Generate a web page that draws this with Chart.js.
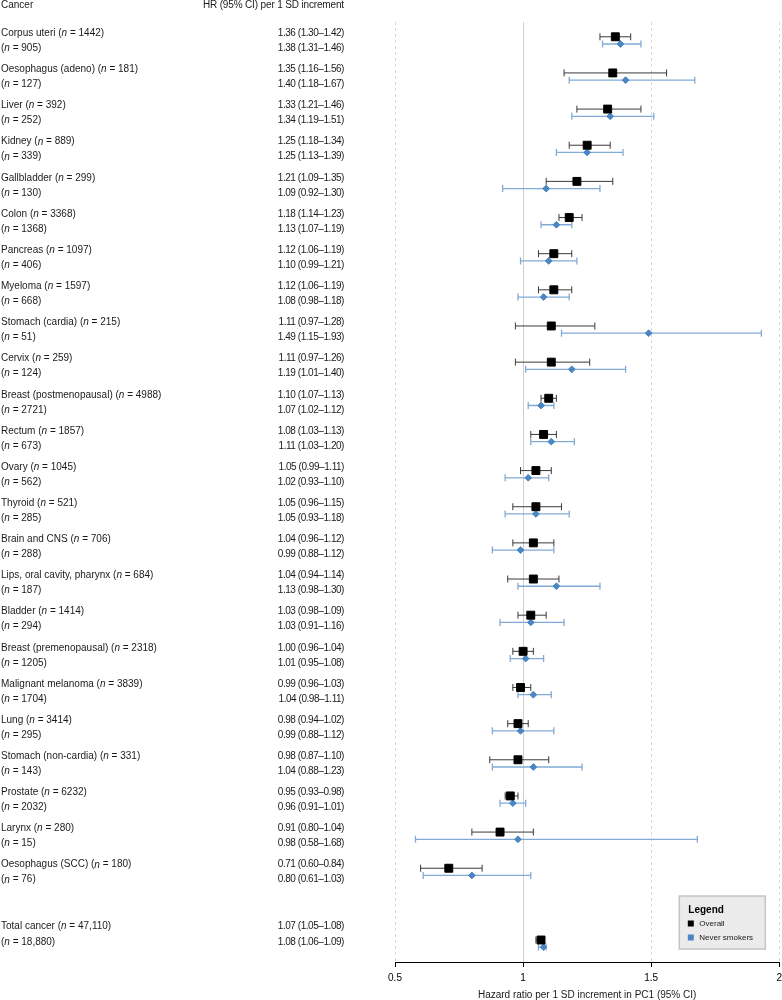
<!DOCTYPE html>
<html>
<head>
<meta charset="utf-8">
<script src="https://cdn.jsdelivr.net/npm/chart.js@4.4.1/dist/chart.umd.min.js"></script>
<style>
  html, body { margin: 0; padding: 0; background: #fff; }
  #wrap { width: 782px; height: 1000px; position: relative; }
</style>
</head>
<body>
<div id="wrap"><canvas id="forest"></canvas></div>
<script>
//---values---
const cancers = ['Corpus uteri', 'Oesophagus (adeno)', 'Liver', 'Kidney', 'Gallbladder', 'Colon', 'Pancreas',
  'Myeloma', 'Stomach (cardia)', 'Cervix', 'Breast (postmenopausal)', 'Rectum', 'Ovary', 'Thyroid',
  'Brain and CNS', 'Lips, oral cavity, pharynx', 'Bladder', 'Breast (premenopausal)', 'Malignant melanoma',
  'Lung', 'Stomach (non-cardia)', 'Prostate', 'Larynx', 'Oesophagus (SCC)', 'Total cancer'];
const nOverall = ['1442', '181', '392', '889', '299', '3368', '1097', '1597', '215', '259', '4988', '1857', '1045',
  '521', '706', '684', '1414', '2318', '3839', '3414', '331', '6232', '280', '180', '47,110'];
const nNever = ['905', '127', '252', '339', '130', '1368', '406', '668', '51', '124', '2721', '673', '562',
  '285', '288', '187', '294', '1205', '1704', '295', '143', '2032', '15', '76', '18,880'];

const hrOverall = [1.36, 1.35, 1.33, 1.25, 1.21, 1.18, 1.12, 1.12, 1.11, 1.11, 1.10, 1.08, 1.05, 1.05, 1.04, 1.04, 1.03, 1.00, 0.99, 0.98, 0.98, 0.95, 0.91, 0.71, 1.07];
const loOverall = [1.30, 1.16, 1.21, 1.18, 1.09, 1.14, 1.06, 1.06, 0.97, 0.97, 1.07, 1.03, 0.99, 0.96, 0.96, 0.94, 0.98, 0.96, 0.96, 0.94, 0.87, 0.93, 0.80, 0.60, 1.05];
const hiOverall = [1.42, 1.56, 1.46, 1.34, 1.35, 1.23, 1.19, 1.19, 1.28, 1.26, 1.13, 1.13, 1.11, 1.15, 1.12, 1.14, 1.09, 1.04, 1.03, 1.02, 1.10, 0.98, 1.04, 0.84, 1.08];

const hrNever = [1.38, 1.40, 1.34, 1.25, 1.09, 1.13, 1.10, 1.08, 1.49, 1.19, 1.07, 1.11, 1.02, 1.05, 0.99, 1.13, 1.03, 1.01, 1.04, 0.99, 1.04, 0.96, 0.98, 0.80, 1.08];
const loNever = [1.31, 1.18, 1.19, 1.13, 0.92, 1.07, 0.99, 0.98, 1.15, 1.01, 1.02, 1.03, 0.93, 0.93, 0.88, 0.98, 0.91, 0.95, 0.98, 0.88, 0.88, 0.91, 0.58, 0.61, 1.06];
const hiNever = [1.46, 1.67, 1.51, 1.39, 1.30, 1.19, 1.21, 1.18, 1.93, 1.40, 1.12, 1.20, 1.10, 1.18, 1.12, 1.30, 1.16, 1.08, 1.11, 1.12, 1.23, 1.01, 1.68, 1.03, 1.09];

const seriesNames = ['Overall', 'Never smokers'];
const xTicks = [0.5, 1, 1.5, 2];
const refLine = 1;
const colHeaders = ['Cancer', 'HR (95% CI) per 1 SD increment'];
const xTitle = 'Hazard ratio per 1 SD increment in PC1 (95% CI)';
const legendTitle = 'Legend';

//---look---
const FAMILY = '"Liberation Sans", Arial, Helvetica, sans-serif';
const FONT = '10px ' + FAMILY;
const TEXT = '#1a1a1a';
const BLACK = '#000000';
const BAR_BLACK = '#3a3a3a';
const BLUE = '#4a86c2';
const BAR_BLUE = '#82aad6';

// vertical slot of each row (one unit per cancer, the total sits further down)
function rowY(i, part) {
  if (i === cancers.length - 1) {
    return {text1: 24.487, text2: 24.93, mark1: 24.875, mark2: 25.069}[part];
  }
  return i + {text1: -0.2075, text2: 0.2075, mark1: -0.111, mark2: 0.0885}[part];
}

function pointsOf(hr, which) {
  return hr.map((v, i) => ({x: v, y: rowY(i, which)}));
}
function whiskersOf(lo, hi, which) {
  const out = [];
  for (let i = 0; i < lo.length; i++) {
    const y = rowY(i, which);
    out.push({x: lo[i], y: y}, {x: hi[i], y: y}, {x: null, y: null});
  }
  return out;
}

function hrText(h, l, u) {
  return h.toFixed(2) + ' (' + l.toFixed(2) + '\u2013' + u.toFixed(2) + ')';
}

// writes "prefix(n = count)" with an italic n
function drawLabel(ctx, x, y, prefix, count) {
  ctx.font = FONT;
  ctx.fillText(prefix, x, y);
  x += ctx.measureText(prefix).width;
  ctx.font = 'italic ' + FONT;
  ctx.fillText('n', x, y);
  x += ctx.measureText('n').width;
  ctx.font = FONT;
  ctx.fillText(' = ' + count + ')', x, y);
}

//-------------------Plugins-------------------
const refLinePlugin = {
  id: 'refLine',
  beforeDatasetsDraw(chart) {
    const {ctx, chartArea, scales} = chart;
    const x = Math.round(scales.x.getPixelForValue(refLine)) + 0.5;
    ctx.save();
    ctx.strokeStyle = '#cfcfcf';
    ctx.lineWidth = 1;
    ctx.beginPath();
    ctx.moveTo(x, chartArea.top);
    ctx.lineTo(x, chartArea.bottom);
    ctx.stroke();
    ctx.restore();
  }
};

const tablePlugin = {
  id: 'table',
  afterDraw(chart) {
    const {ctx, scales} = chart;
    const y = scales.y;
    const leftX = 1, hrRight = 344;
    ctx.save();
    ctx.fillStyle = TEXT;
    ctx.textBaseline = 'middle';
    ctx.font = FONT;
    ctx.textAlign = 'left';
    ctx.fillText(colHeaders[0], leftX, 5);
    ctx.textAlign = 'right';
    ctx.letterSpacing = '-0.15px';
    ctx.fillText(colHeaders[1], hrRight, 5);

    for (let i = 0; i < cancers.length; i++) {
      const y1 = y.getPixelForValue(rowY(i, 'text1'));
      const y2 = y.getPixelForValue(rowY(i, 'text2'));
      ctx.letterSpacing = '0px';
      ctx.textAlign = 'left';
      drawLabel(ctx, leftX, y1, cancers[i] + ' (', nOverall[i]);
      drawLabel(ctx, leftX, y2, '(', nNever[i]);
      ctx.textAlign = 'right';
      ctx.font = FONT;
      ctx.letterSpacing = '-0.45px';
      ctx.fillText(hrText(hrOverall[i], loOverall[i], hiOverall[i]), hrRight, y1);
      ctx.fillText(hrText(hrNever[i], loNever[i], hiNever[i]), hrRight, y2);
    }
    ctx.restore();
  }
};

const legendBoxPlugin = {
  id: 'legendBox',
  afterDraw(chart) {
    const {ctx, chartArea} = chart;
    const w = 86, h = 53;
    const x0 = chartArea.right - 14 - w;
    const y0 = chartArea.bottom - 13 - h;
    ctx.save();
    ctx.fillStyle = '#ebebeb';
    ctx.strokeStyle = '#c4c4c4';
    ctx.lineWidth = 1.5;
    ctx.fillRect(x0, y0, w, h);
    ctx.strokeRect(x0, y0, w, h);
    ctx.textBaseline = 'middle';
    ctx.textAlign = 'left';
    ctx.fillStyle = BLACK;
    ctx.font = 'bold 10px ' + FAMILY;
    ctx.fillText(legendTitle, x0 + 9, y0 + 14);
    const colors = [BLACK, BLUE];
    ctx.font = '8px ' + FAMILY;
    seriesNames.forEach((name, k) => {
      const yy = y0 + 27.5 + k * 14;
      ctx.fillStyle = colors[k];
      ctx.fillRect(x0 + 8.5, yy - 3, 6, 6);
      ctx.fillStyle = TEXT;
      ctx.fillText(name, x0 + 20, yy);
    });
    ctx.restore();
  }
};

//-------------------Chart-------------------
Chart.defaults.font.family = FAMILY;
Chart.defaults.font.size = 10;
Chart.defaults.color = TEXT;

new Chart(document.getElementById('forest'), {
  type: 'scatter',
  data: {
    datasets: [
      {
        label: seriesNames[0],
        data: pointsOf(hrOverall, 'mark1'),
        pointStyle: 'rect',
        pointRadius: 5.6,
        backgroundColor: BLACK,
        borderColor: BLACK,
        borderWidth: 1,
        order: 0
      },
      {
        label: seriesNames[1],
        data: pointsOf(hrNever, 'mark2'),
        pointStyle: 'rectRot',
        pointRadius: 3.4,
        backgroundColor: BLUE,
        borderColor: BLUE,
        borderWidth: 1,
        order: 0
      },
      {
        label: seriesNames[0] + ' CI',
        data: whiskersOf(loOverall, hiOverall, 'mark1'),
        showLine: true,
        spanGaps: false,
        borderColor: BAR_BLACK,
        borderWidth: 1,
        pointStyle: 'line',
        rotation: 90,
        pointRadius: 3.5,
        pointBorderColor: BAR_BLACK,
        pointBorderWidth: 1,
        order: 1
      },
      {
        label: seriesNames[1] + ' CI',
        data: whiskersOf(loNever, hiNever, 'mark2'),
        showLine: true,
        spanGaps: false,
        borderColor: BAR_BLUE,
        borderWidth: 1.3,
        pointStyle: 'line',
        rotation: 90,
        pointRadius: 3.5,
        pointBorderColor: BAR_BLUE,
        pointBorderWidth: 1.3,
        order: 1
      }
    ]
  },
  options: {
    responsive: true,
    maintainAspectRatio: false,
    animation: false,
    layout: { autoPadding: false, padding: { left: 395, right: 0, top: 22, bottom: 0 } },
    plugins: {
      legend: { display: false },
      tooltip: { enabled: false }
    },
    scales: {
      x: {
        type: 'linear',
        min: 0.5,
        max: 2,
        afterBuildTicks: s => { s.ticks = xTicks.map(v => ({value: v})); },
        afterFit: s => { s.height = 38; s.paddingLeft = 0; s.paddingRight = 2.7; },
        ticks: {
          color: BLACK,
          padding: 5,
          maxRotation: 0,
          autoSkip: false,
          callback: v => String(v)
        },
        grid: {
          color: c => (c.tick && c.tick.value === refLine) ? 'rgba(0,0,0,0)' : '#d9d9d9',
          lineWidth: 1,
          drawTicks: true,
          tickColor: BLACK,
          tickLength: 5,
          tickWidth: 1
        },
        border: { display: true, color: BLACK, width: 1, dash: [3, 3] },
        title: {
          display: true,
          text: xTitle,
          color: TEXT,
          padding: { top: 2, bottom: -1 }
        }
      },
      y: {
        type: 'linear',
        display: false,
        reverse: true,
        min: -0.520,
        max: 25.483
      }
    }
  },
  plugins: [refLinePlugin, tablePlugin, legendBoxPlugin]
});
</script>
</body>
</html>
